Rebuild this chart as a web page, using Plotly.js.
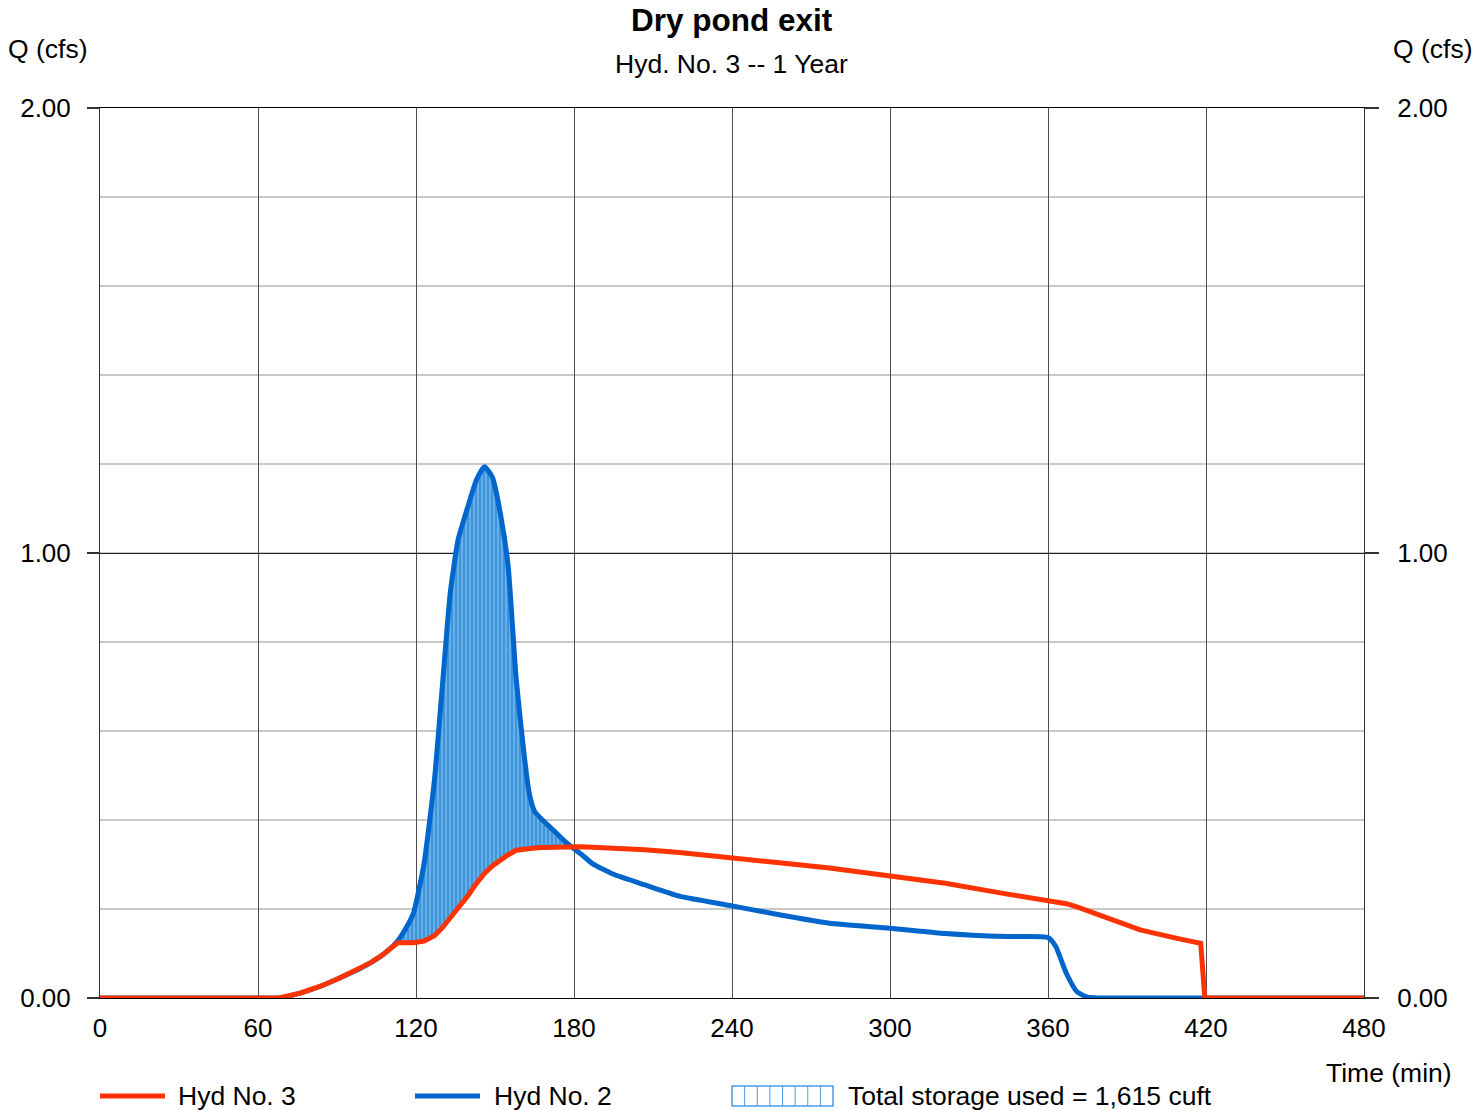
<!DOCTYPE html>
<html>
<head>
<meta charset="utf-8">
<script src="https://cdn.plot.ly/plotly-3.0.1.min.js"></script>
<style>
  html, body { margin: 0; padding: 0; background: #ffffff; }
  #chart { width: 1475px; height: 1110px; }
</style>
</head>
<body>
<div id="chart"></div>
<script>
// ---- Data ----
const timeMin = [0, 60, 68, 76, 84, 91, 98, 103, 108, 113, 116, 119, 123, 127, 130, 133, 136, 140, 143, 146, 149, 152, 155, 158, 161, 163, 165, 168, 172, 176, 179, 183, 187, 195, 207, 220, 240, 258, 277, 300, 321, 344, 360, 363, 367, 371, 375, 395, 409, 418, 419.5, 420, 480];

// Hyd No. 2 (inflow)
const hyd2 = [0, 0, 0, 0.011, 0.027, 0.045, 0.064, 0.080, 0.100, 0.128, 0.155, 0.190, 0.300, 0.490, 0.700, 0.910, 1.030, 1.110, 1.165, 1.194, 1.170, 1.090, 0.970, 0.720, 0.550, 0.460, 0.420, 0.400, 0.378, 0.355, 0.340, 0.322, 0.302, 0.278, 0.254, 0.229, 0.207, 0.187, 0.168, 0.157, 0.145, 0.138, 0.136, 0.115, 0.055, 0.014, 0.002, 0, 0, 0, 0, 0, 0];

// Hyd No. 3 (outflow)
const hyd3 = [0, 0, 0, 0.011, 0.027, 0.045, 0.064, 0.080, 0.100, 0.124, 0.124, 0.124, 0.128, 0.140, 0.158, 0.180, 0.200, 0.232, 0.258, 0.280, 0.297, 0.310, 0.322, 0.332, 0.335, 0.336, 0.337, 0.338, 0.339, 0.340, 0.340, 0.340, 0.339, 0.337, 0.333, 0.327, 0.316, 0.304, 0.292, 0.273, 0.258, 0.234, 0.220, 0.217, 0.212, 0.205, 0.196, 0.153, 0.134, 0.123, 0.003, 0, 0];

const xTicks = [0, 60, 120, 180, 240, 300, 360, 420, 480];
const yTicks = [0, 1, 2];
const seriesNames = ["Hyd No. 3", "Hyd No. 2"];
const storageLabel = "Total storage used = 1,615 cuft";

// ---- Storage region (where inflow exceeds outflow) ----
let iMin = -1, iMax = -1;
for (let i = 0; i < timeMin.length; i++) {
  if (hyd2[i] - hyd3[i] > 0.001) { if (iMin < 0) iMin = i; iMax = i; }
}
iMin = Math.max(0, iMin - 1); iMax = Math.min(timeMin.length - 1, iMax + 1);
const sx = [], sy = [];
for (let i = iMin; i <= iMax; i++) { sx.push(timeMin[i]); sy.push(hyd2[i]); }
for (let i = iMax; i >= iMin; i--) { sx.push(timeMin[i]); sy.push(hyd3[i]); }

const RED = '#ff3300', BLUE = '#0066cc';
const FONT = 'Arial, "Liberation Sans", sans-serif';
const SMOOTH = 0.5;

const traces = [
  {
    x: sx, y: sy, type: 'scatter', mode: 'lines', fill: 'toself',
    fillcolor: '#3d95dc',
    fillpattern: { shape: '|', bgcolor: '#3d95dc', fgcolor: '#86c0ef', size: 4, solidity: 0.3 },
    line: { width: 0, color: '#3d95dc', shape: 'spline', smoothing: SMOOTH }, showlegend: false, hoverinfo: 'skip'
  },
  {
    x: timeMin, y: hyd2, type: 'scatter', mode: 'lines', name: seriesNames[1],
    line: { color: BLUE, width: 5, shape: 'spline', smoothing: SMOOTH }, showlegend: false
  },
  {
    x: timeMin, y: hyd3, type: 'scatter', mode: 'lines', name: seriesNames[0],
    line: { color: RED, width: 5, shape: 'linear' }, showlegend: false
  },
  {
    x: [timeMin[0]], y: [hyd3[0]], yaxis: 'y2', type: 'scatter', mode: 'lines',
    line: { width: 0 }, showlegend: false, hoverinfo: 'skip'
  }
];

// paper coordinate helpers (plot area: x 100..1364, y 108..998)
const px = p => (p - 100) / 1264;
const py = p => (998 - p) / 890;

const legendShapes = [
  { type: 'line', xref: 'paper', yref: 'paper', x0: px(100), x1: px(165), y0: py(1096), y1: py(1096), line: { color: RED, width: 5 } },
  { type: 'line', xref: 'paper', yref: 'paper', x0: px(415), x1: px(480), y0: py(1096), y1: py(1096), line: { color: BLUE, width: 5 } },
  { type: 'rect', xref: 'paper', yref: 'paper', x0: px(732), x1: px(833), y0: py(1106), y1: py(1086), line: { color: '#4a9be0', width: 1.5 }, fillcolor: 'rgba(0,0,0,0)' }
];
for (let k = 1; k < 8; k++) {
  const xx = 732 + k * (101 / 8);
  legendShapes.push({ type: 'line', xref: 'paper', yref: 'paper', x0: px(xx), x1: px(xx), y0: py(1106), y1: py(1086), line: { color: '#4a9be0', width: 1 } });
}

const annFont = { family: FONT, size: 26.5, color: '#000' };
const annotations = [
  { text: '<b>Dry pond exit</b>', xref: 'paper', yref: 'paper', x: px(732), y: py(20), xanchor: 'center', yanchor: 'middle', showarrow: false, font: { family: FONT, size: 31.5, color: '#000' } },
  { text: 'Hyd. No. 3 -- 1 Year', xref: 'paper', yref: 'paper', x: px(731), y: py(64), xanchor: 'center', yanchor: 'middle', showarrow: false, font: annFont },
  { text: 'Q (cfs)', xref: 'paper', yref: 'paper', x: px(48), y: py(49), xanchor: 'center', yanchor: 'middle', showarrow: false, font: annFont },
  { text: 'Q (cfs)', xref: 'paper', yref: 'paper', x: px(1433), y: py(49), xanchor: 'center', yanchor: 'middle', showarrow: false, font: annFont },
  { text: 'Time (min)', xref: 'paper', yref: 'paper', x: px(1389), y: py(1073), xanchor: 'center', yanchor: 'middle', showarrow: false, font: annFont },
  { text: seriesNames[0], xref: 'paper', yref: 'paper', x: px(176), y: py(1096), xanchor: 'left', yanchor: 'middle', showarrow: false, font: annFont },
  { text: seriesNames[1], xref: 'paper', yref: 'paper', x: px(492), y: py(1096), xanchor: 'left', yanchor: 'middle', showarrow: false, font: annFont },
  { text: storageLabel, xref: 'paper', yref: 'paper', x: px(846), y: py(1096), xanchor: 'left', yanchor: 'middle', showarrow: false, font: annFont }
];

const layout = {
  width: 1475, height: 1110,
  margin: { l: 100, r: 111, t: 108, b: 112, pad: 0 },
  paper_bgcolor: '#ffffff', plot_bgcolor: '#ffffff',
  font: { family: FONT, size: 26, color: '#000' },
  showlegend: false,
  xaxis: {
    range: [0, 480], tickvals: xTicks, ticktext: xTicks.map(String),
    showgrid: true, gridcolor: '#4d4d4d', gridwidth: 1,
    showline: true, linecolor: '#000', linewidth: 1, mirror: true,
    zeroline: false, ticks: '', ticklabelstandoff: 7,
    tickfont: { family: FONT, size: 26, color: '#000' }, fixedrange: true
  },
  yaxis: {
    range: [0, 2], tickvals: yTicks, ticktext: yTicks.map(v => v.toFixed(2)),
    showgrid: true, gridcolor: '#222', gridwidth: 1,
    minor: { dtick: 0.2, showgrid: true, gridcolor: '#c8c8c8', gridwidth: 2, ticks: '' },
    showline: true, linecolor: '#333', linewidth: 1, mirror: true,
    zeroline: false, ticks: 'outside', ticklen: 12, tickcolor: '#333', tickwidth: 1.5,
    ticklabelstandoff: 11,
    tickfont: { family: FONT, size: 26, color: '#000' }, fixedrange: true
  },
  yaxis2: {
    overlaying: 'y', side: 'right', anchor: 'x',
    range: [0, 2], tickvals: yTicks, ticktext: yTicks.map(v => v.toFixed(2)),
    showgrid: false, zeroline: false, showline: false,
    ticks: 'outside', ticklen: 14, tickcolor: '#333', tickwidth: 1.5,
    ticklabelstandoff: 13,
    tickfont: { family: FONT, size: 26, color: '#000' }, fixedrange: true
  },
  shapes: legendShapes,
  annotations: annotations
};

Plotly.newPlot('chart', traces, layout, { staticPlot: true, displayModeBar: false });
</script>
</body>
</html>
